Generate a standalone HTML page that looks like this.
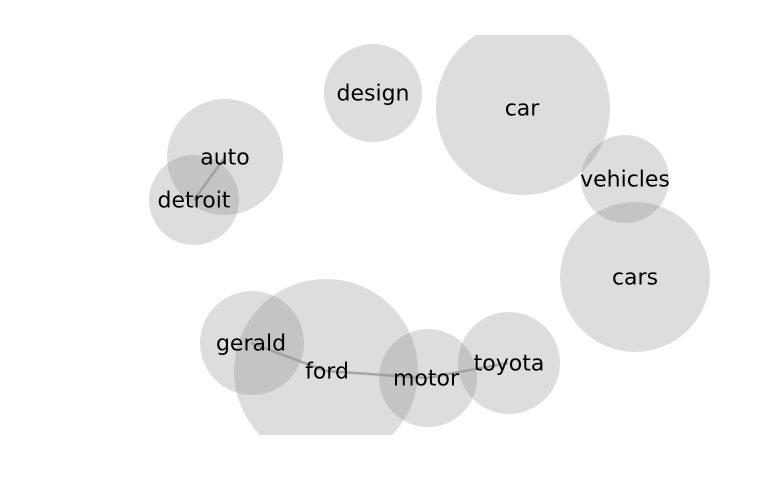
<!DOCTYPE html>
<html><head><style>html,body{margin:0;padding:0;background:#fff;width:768px;height:500px;overflow:hidden}</style></head>
<body>
<svg width="768" height="500" viewBox="0 0 768 500" xmlns="http://www.w3.org/2000/svg">
<defs><clipPath id="c"><rect x="0" y="35" width="768" height="400"/></clipPath></defs>
<g clip-path="url(#c)">
<g fill="rgb(128,128,128)" fill-opacity="0.268">
<circle cx="523" cy="108" r="87"/>
<circle cx="373" cy="93" r="49"/>
<circle cx="225" cy="157" r="58"/>
<circle cx="194" cy="200" r="45"/>
<circle cx="625" cy="179" r="44"/>
<circle cx="635" cy="277" r="75"/>
<circle cx="252" cy="343" r="52"/>
<circle cx="326" cy="371" r="92"/>
<circle cx="428" cy="378" r="49"/>
<circle cx="509" cy="363" r="51"/>
</g>
<g stroke="#999" stroke-width="2.5" stroke-opacity="0.8" fill="none">
<line x1="225" y1="157" x2="194" y2="200"/>
<line x1="251" y1="343" x2="326" y2="371"/>
<line x1="326" y1="371" x2="427" y2="378"/>
<line x1="427" y1="378" x2="508" y2="363"/>
</g>
</g>
<g font-family="DejaVu Sans, sans-serif" font-size="22" fill="#000" text-anchor="middle" dominant-baseline="central">
<text x="522" y="109">car</text>
<text x="373" y="94">design</text>
<text x="225" y="158">auto</text>
<text x="194" y="201">detroit</text>
<text x="625" y="180">vehicles</text>
<text x="635" y="278">cars</text>
<text x="251" y="344">gerald</text>
<text x="327" y="372">ford</text>
<text x="426" y="379">motor</text>
<text x="509" y="364">toyota</text>
</g>
</svg>
</body></html>
